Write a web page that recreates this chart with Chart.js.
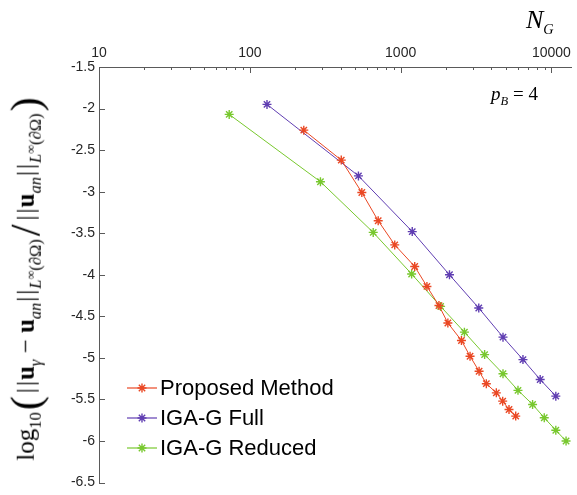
<!DOCTYPE html>
<html><head><meta charset="utf-8">
<script src="https://cdn.jsdelivr.net/npm/chart.js@4.4.1/dist/chart.umd.min.js"></script>
<style>
html,body{margin:0;padding:0;background:#fff;}
#wrap{position:relative;width:577px;height:495px;overflow:hidden;background:#fff;}
#c{position:absolute;left:0;top:0;}
.math{font-family:"Liberation Serif","DejaVu Serif",serif;position:absolute;white-space:nowrap;color:#000;line-height:1;}
.sb{font-size:0.66em;vertical-align:-0.4em;}
.sp{font-size:0.75em;vertical-align:0.45em;}
.big{font-size:1.7em;vertical-align:-0.14em;font-style:normal;font-weight:normal;}
.nb{display:inline-block;margin:0 1px;}
.op{margin:0 0.25em;}
#ylab{left:26px;top:278px;transform:translate(-50%,-50%) rotate(-90deg);font-size:25px;}
</style></head><body>
<div id="wrap">
<canvas id="c" width="577" height="495"></canvas>
<div class="math" style="left:526px;top:7px;font-size:26px;font-style:italic;">N<span class="sb" style="font-size:0.55em">G</span></div>
<div class="math" style="left:491px;top:84px;font-size:19px;"><i>p</i><span class="sb"><i>B</i></span><span class="op">=</span>4</div>
<div class="math" id="ylab">log<span class="sb">10</span><span class="big" style="margin:0 2px">(</span><span class="nb">|</span><span class="nb">|</span><b>u</b><span class="sb"><i>γ</i></span><span class="op">−</span><b>u</b><span class="sb"><i>an</i></span><span class="nb">|</span><span class="nb">|</span><span class="sb"><i>L</i><span class="sp">∞</span>(∂Ω)</span><span class="big" style="margin:0 3px">/</span><span class="nb">|</span><span class="nb">|</span><b>u</b><span class="sb"><i>an</i></span><span class="nb">|</span><span class="nb">|</span><span class="sb"><i>L</i><span class="sp">∞</span>(∂Ω)</span><span class="big" style="margin:0 2px">)</span></div>
</div>
<script>
// ---- data ----
const seriesNames = ['Proposed Method', 'IGA-G Full', 'IGA-G Reduced'];
const proposedN   = [228, 404, 553, 710, 914, 1240, 1494, 1795, 2057, 2531, 2886, 3313, 3701, 4311, 4750, 5232, 5796];
const proposedErr = [-2.26, -2.62, -3.01, -3.35, -3.64, -3.90, -4.14, -4.37, -4.58, -4.79, -4.98, -5.16, -5.31, -5.42, -5.52, -5.62, -5.70];
const fullN       = [130, 525, 1194, 2108, 3297, 4773, 6474, 8420, 10690];
const fullErr     = [-1.95, -2.81, -3.48, -4.00, -4.40, -4.75, -5.02, -5.26, -5.46];
const reducedN    = [73, 294, 658, 1183, 1841, 2648, 3605, 4773, 6000, 7498, 8960, 10690, 12500];
const reducedErr  = [-2.07, -2.88, -3.49, -3.99, -4.38, -4.69, -4.96, -5.19, -5.39, -5.56, -5.72, -5.87, -6.00];
const xTickValues = [10, 100, 1000, 10000];
const yTickValues = [-1.5, -2, -2.5, -3, -3.5, -4, -4.5, -5, -5.5, -6, -6.5];

const colors = ['rgb(234,72,36)', 'rgb(96,62,178)', 'rgb(120,200,46)'];
const legendColors = ['rgba(234,72,36,0.6)', 'rgba(96,62,178,0.6)', 'rgba(120,200,46,0.6)'];
const axisColor = '#5a5a5a';
const tickFont = {family: '"Liberation Sans", Arial, sans-serif', size: 14};

function pts(xs, ys) { return xs.map((x, i) => ({x: x, y: ys[i]})); }
const seriesData = [pts(proposedN, proposedErr), pts(fullN, fullErr), pts(reducedN, reducedErr)];

const datasets = seriesNames.map((name, i) => ({
  label: name,
  data: seriesData[i],
  borderColor: colors[i],
  backgroundColor: colors[i],
  borderWidth: 1,
  pointStyle: 'star',
  pointRadius: 4.5,
  pointBorderWidth: 1.4,
  pointBorderColor: colors[i],
  tension: 0,
  fill: false
}));

const inwardTicks = {
  id: 'inwardTicks',
  afterDraw(chart) {
    const ctx = chart.ctx, a = chart.chartArea, xs = chart.scales.x, ys = chart.scales.y;
    ctx.save();
    ctx.strokeStyle = axisColor;
    ctx.lineWidth = 1;
    ctx.beginPath();
    xTickValues.forEach(d => {
      for (let m = 1; m <= 9; m++) {
        const v = d * m;
        if (v < xs.min || v > xs.max) continue;
        const px = Math.round(xs.getPixelForValue(v)) + 0.5;
        const len = m === 1 ? 6 : 3;
        ctx.moveTo(px, a.top);
        ctx.lineTo(px, a.top + len);
      }
    });
    yTickValues.forEach(v => {
      const py = Math.round(ys.getPixelForValue(v)) + 0.5;
      ctx.moveTo(a.left, py);
      ctx.lineTo(a.left + 6, py);
    });
    ctx.stroke();
    ctx.restore();
  }
};

const customLegend = {
  id: 'customLegend',
  afterDraw(chart) {
    const ctx = chart.ctx;
    ctx.save();
    chart.data.datasets.forEach((ds, i) => {
      const y = 388 + i * 30;
      ctx.strokeStyle = legendColors[i];
      ctx.lineWidth = 2;
      ctx.beginPath();
      ctx.moveTo(127, y); ctx.lineTo(157, y);
      ctx.stroke();
      ctx.strokeStyle = ds.borderColor;
      ctx.lineWidth = 1.4;
      Chart.helpers.drawPoint(ctx, {pointStyle: 'star', radius: 4.5, borderWidth: 1.4}, 142, y);
      ctx.fillStyle = '#000';
      ctx.font = '22px "Liberation Sans", Arial, sans-serif';
      ctx.textBaseline = 'middle';
      ctx.textAlign = 'left';
      ctx.fillText(ds.label, 160, y + 1);
    });
    ctx.restore();
  }
};

new Chart(document.getElementById('c'), {
  type: 'line',
  data: {datasets: datasets},
  options: {
    responsive: false,
    animation: false,
    layout: {padding: {left: 0, top: 0, right: 4, bottom: 5}},
    plugins: {legend: {display: false}, tooltip: {enabled: false}},
    scales: {
      x: {
        type: 'logarithmic',
        position: 'top',
        min: 10,
        max: 13500,
        afterBuildTicks: s => { s.ticks = xTickValues.map(v => ({value: v})); },
        afterFit: s => { s.height = 67; },
        ticks: {color: '#262626', font: tickFont, padding: 5, maxRotation: 0, autoSkip: false,
                callback: v => String(v)},
        grid: {display: true, drawOnChartArea: false, drawTicks: false},
        border: {display: true, color: axisColor, width: 1}
      },
      y: {
        type: 'linear',
        min: -6.5,
        max: -1.5,
        afterBuildTicks: s => { s.ticks = yTickValues.map(v => ({value: v})); },
        afterFit: s => { s.width = 99; },
        ticks: {color: '#262626', font: tickFont, padding: 4, autoSkip: false,
                callback: v => String(v)},
        grid: {display: true, drawOnChartArea: false, drawTicks: false},
        border: {display: true, color: axisColor, width: 1}
      }
    }
  },
  plugins: [inwardTicks, customLegend]
});
</script>
</body></html>
